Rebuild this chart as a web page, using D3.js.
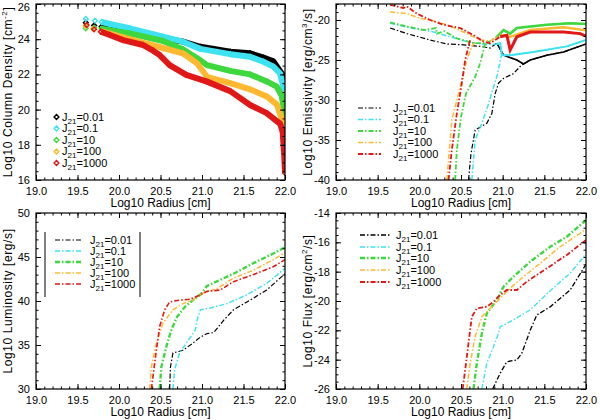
<!DOCTYPE html>
<html>
<head>
<meta charset="utf-8">
<script src="https://cdn.jsdelivr.net/npm/d3@7"></script>
<style>
  body { margin: 0; background: #fff; }
  text { font-family: 'Liberation Sans', Arial, sans-serif; fill: #000; }
</style>
</head>
<body>
<svg id="chart" width="600" height="420"></svg>
<script>
/* Four panels of the shell models, one curve per J21 value.
   Values: [log10 radius, value]. */

const jValues = ['0.01', '0.1', '10', '100', '1000'];
const seriesColors = ['#000000', '#3ee2f0', '#3ed83e', '#ffb830', '#e01818'];

// top left: column density (diamond symbols)
const colDen0_01 = [[19.60,24.94],[19.70,24.78],[19.79,24.71],[19.90,24.60],[20.13,24.33],[20.53,24.05],[20.77,23.86],[20.98,23.57],[21.34,23.29],[21.58,23.20],[21.74,22.95],[21.86,22.74],[21.96,22.06],[22.00,21.70]];
const colDen0_1  = [[19.60,25.15],[19.71,25.05],[19.79,24.99],[19.90,24.85],[20.13,24.62],[20.53,24.14],[20.77,23.86],[20.98,23.45],[21.34,23.15],[21.58,23.00],[21.74,22.72],[21.86,22.44],[21.94,22.06],[21.98,21.30],[22.00,20.80]];
const colDen10   = [[19.60,24.62],[19.70,24.65],[19.79,24.60],[19.90,24.50],[20.13,24.33],[20.53,23.90],[20.77,23.43],[20.98,22.80],[21.06,22.53],[21.34,22.20],[21.58,22.00],[21.78,21.60],[21.90,21.30],[21.96,20.80],[21.99,19.90],[22.00,19.30]];
const colDen100  = [[19.60,24.75],[19.69,24.58],[19.79,24.45],[19.90,24.30],[20.13,24.00],[20.53,23.50],[20.77,23.20],[20.94,22.63],[21.06,21.87],[21.10,21.80],[21.34,21.50],[21.58,21.15],[21.78,20.75],[21.90,20.30],[21.96,19.50],[21.99,18.90],[22.00,18.50]];
const colDen1000 = [[19.61,24.80],[19.70,24.56],[19.78,24.43],[19.89,24.24],[20.05,23.95],[20.29,23.67],[20.41,23.35],[20.49,23.10],[20.61,22.53],[20.81,21.97],[21.06,21.59],[21.34,21.05],[21.58,20.26],[21.78,19.80],[21.90,19.35],[21.94,19.20],[21.97,18.80],[21.99,17.50],[22.00,16.40]];

// top right: emissivity, outer branch and steep inner branch
const emisUpper0_01 = [[19.65,-21.0],[19.85,-21.7],[20.13,-22.5],[20.33,-23.0],[20.53,-23.1],[20.73,-23.3],[20.85,-23.5],[20.93,-22.9],[21.01,-24.4],[21.17,-25.0],[21.25,-25.5],[21.33,-25.0],[21.53,-24.4],[21.73,-24.0],[22.00,-23.0]];
const emisLower0_01 = [[20.59,-40],[20.62,-36.7],[20.67,-33.75],[20.81,-32.9],[20.87,-31.7],[20.91,-29.2],[20.95,-27.9],[21.01,-27.3],[21.13,-26.7],[21.21,-25.8],[21.25,-25.5]];
const emisUpper0_1  = [[19.65,-20.4],[19.89,-21.0],[20.05,-21.25],[20.17,-21.5],[20.37,-22.1],[20.57,-22.7],[20.81,-23.1],[20.93,-23.0],[20.97,-22.9],[20.99,-24.4],[21.09,-24.4],[21.37,-24.0],[21.77,-23.3],[22.00,-22.5]];
const emisLower0_1  = [[20.63,-40],[20.67,-35],[20.75,-32.9],[20.82,-30.8],[20.88,-28.75],[20.94,-26.7],[20.98,-24.6],[20.99,-24.4]];
const emisUpper10   = [[19.65,-20.3],[19.85,-20.8],[20.05,-21.25],[20.20,-21.0],[20.21,-21.7],[20.30,-21.4],[20.45,-22.3],[20.65,-22.9],[20.81,-22.9],[20.93,-22.1],[21.01,-21.25],[21.09,-21.7],[21.17,-21.0],[21.53,-20.6],[21.81,-20.4],[22.00,-20.5]];
const emisLower10   = [[20.43,-40],[20.45,-36.25],[20.50,-32.1],[20.56,-29.2],[20.67,-27.1],[20.73,-25.4],[20.77,-23.75],[20.79,-22.9]];
const emisUpper100  = [[19.65,-19.0],[19.85,-19.2],[20.01,-19.8],[20.13,-20.0],[20.33,-20.6],[20.53,-21.5],[20.73,-22.5],[20.85,-22.6],[20.97,-21.9],[21.09,-22.1],[21.33,-21.25],[21.73,-20.9],[22.00,-21.3]];
const emisLower100  = [[20.33,-40],[20.36,-36.25],[20.39,-32.5],[20.45,-30],[20.51,-27.5],[20.57,-25],[20.63,-23.3],[20.67,-22.8]];
const emisUpper1000 = [[19.65,-18.1],[19.81,-18.5],[19.85,-18.3],[19.97,-19.2],[20.13,-20.0],[20.29,-20.6],[20.49,-21.0],[20.65,-21.9],[20.77,-22.7],[20.85,-22.9],[20.97,-22.1],[21.05,-21.9],[21.09,-23.75],[21.17,-22.1],[21.33,-21.5],[21.73,-21.5],[21.93,-21.7],[22.00,-22.0]];
const emisLower1000 = [[20.35,-40],[20.39,-36.25],[20.45,-31.7],[20.51,-27.9],[20.55,-25],[20.59,-23.3],[20.61,-22.5]];

// bottom left: luminosity
const lum0_01 = [[20.61,30],[20.62,32.5],[20.65,34.1],[20.77,34.4],[20.89,35.2],[20.98,35.9],[21.06,36.3],[21.14,36.4],[21.26,37.8],[21.38,39.0],[21.58,40.1],[21.78,41.25],[22.00,43.1]];
const lum0_1  = [[20.65,30],[20.67,32.2],[20.73,34.1],[20.81,35.2],[20.92,36.7],[20.94,37.8],[20.98,39.0],[21.10,39.2],[21.30,39.7],[21.54,40.7],[21.78,42.0],[22.00,43.7]];
const lum10   = [[20.49,30],[20.51,32.5],[20.57,34.8],[20.63,36.7],[20.70,38.2],[20.80,39.4],[20.89,40.1],[20.98,40.7],[21.06,41.7],[21.22,42.4],[21.38,43.1],[21.62,44.3],[21.86,45.4],[22.00,46.1]];
const lum100  = [[20.37,30],[20.39,32.5],[20.45,35.2],[20.53,37.5],[20.65,39.0],[20.77,39.7],[20.89,40.1],[21.01,40.9],[21.18,41.4],[21.38,42.6],[21.62,43.5],[21.86,44.7],[22.00,45.5]];
const lum1000 = [[20.39,30],[20.42,32.2],[20.45,34.4],[20.49,37.1],[20.55,39.0],[20.61,39.9],[20.73,40.1],[20.85,40.2],[20.98,40.7],[21.06,41.1],[21.22,41.25],[21.38,42.2],[21.62,43.0],[21.86,43.9],[22.00,44.7]];

// bottom right: flux
const flux0_01 = [[20.88,-26],[20.97,-24.93],[21.05,-24.14],[21.17,-24.02],[21.23,-23.56],[21.33,-22.0],[21.41,-20.95],[21.57,-20.4],[21.81,-19.25],[22.00,-17.5]];
const flux0_1  = [[20.75,-26],[20.81,-24.25],[20.89,-23.11],[20.95,-22.2],[20.97,-21.75],[21.09,-21.41],[21.33,-20.61],[21.57,-19.3],[21.81,-18.1],[22.00,-16.8]];
const flux10   = [[20.65,-26],[20.69,-24.25],[20.75,-22.2],[20.81,-20.84],[20.93,-19.93],[21.01,-19.02],[21.13,-18.34],[21.33,-17.32],[21.57,-16.3],[21.77,-15.62],[22.00,-14.48]];
const flux100  = [[20.57,-26],[20.61,-24.25],[20.67,-22.43],[20.75,-21.07],[20.85,-20.5],[20.97,-19.81],[21.09,-19.13],[21.25,-18.34],[21.45,-17.43],[21.69,-16.3],[22.00,-15.11]];
const flux1000 = [[20.52,-26],[20.55,-24.7],[20.59,-22.88],[20.63,-21.07],[20.69,-20.5],[20.81,-20.39],[20.89,-20.05],[20.97,-19.59],[21.05,-19.25],[21.17,-19.25],[21.29,-18.68],[21.53,-17.77],[21.77,-16.86],[22.00,-15.84]];

const xTicks = [19.0, 19.5, 20.0, 20.5, 21.0, 21.5, 22.0];
const colDenTicks = [16, 18, 20, 22, 24, 26];
const emisTicks = [-40, -35, -30, -25, -20];
const lumTicks = [30, 35, 40, 45, 50];
const fluxTicks = [-26, -24, -22, -20, -18, -16, -14];

const DASHDOT = '5,2,1.5,2';
const svg = d3.select('#chart');


/* Frame, inward ticks on all four sides, labels on bottom and left. */
function makePanel(p) {
    let panel = {};
    panel.x = d3.scaleLinear().domain([19, 22]).range([p.left, p.right]);
    panel.y = d3.scaleLinear().domain(p.yDomain).range([p.bottom, p.top]);
    panel.root = svg.append('g');

    let clipId = 'clip' + p.id;
    panel.root.append('clipPath').attr('id', clipId)
        .append('rect')
        .attr('x', p.left).attr('y', p.top)
        .attr('width', p.right - p.left).attr('height', p.bottom - p.top);
    panel.plot = panel.root.append('g').attr('clip-path', `url(#${clipId})`);

    let xMinor = d3.range(19, 22.001, 0.1);
    let yMinor = d3.range(p.yDomain[0], p.yDomain[1] + 0.001, p.yMinor);

    function axis(gen, transform, values, size, fmt) {
        let g = panel.root.append('g')
            .attr('transform', transform)
            .call(gen.tickValues(values).tickSize(-size).tickPadding(7).tickFormat(fmt));
        g.select('.domain').remove();
        g.selectAll('line').attr('stroke', '#000').attr('stroke-width', 1);
        g.selectAll('text').attr('font-size', 11).attr('font-family', null);
        return g;
    }
    let none = () => '';
    axis(d3.axisBottom(panel.x), `translate(0,${p.bottom})`, xMinor, 2.5, none);
    axis(d3.axisBottom(panel.x), `translate(0,${p.bottom})`, xTicks, 5, d3.format('.1f'));
    axis(d3.axisTop(panel.x), `translate(0,${p.top})`, xMinor, 2.5, none);
    axis(d3.axisTop(panel.x), `translate(0,${p.top})`, xTicks, 5, none);
    axis(d3.axisLeft(panel.y), `translate(${p.left},0)`, yMinor, 2.5, none);
    axis(d3.axisLeft(panel.y), `translate(${p.left},0)`, p.yTicks, 5, d => String(d))
        .selectAll('text').attr('x', -6)
        // keep the top label inside the page
        .attr('dy', d => panel.y(d) < 6 ? '0.62em' : '0.32em');
    axis(d3.axisRight(panel.y), `translate(${p.right},0)`, yMinor, 2.5, none);
    axis(d3.axisRight(panel.y), `translate(${p.right},0)`, p.yTicks, 5, none);

    panel.root.append('rect')
        .attr('x', p.left).attr('y', p.top)
        .attr('width', p.right - p.left).attr('height', p.bottom - p.top)
        .attr('fill', 'none').attr('stroke', '#000').attr('stroke-width', 1.2);

    panel.root.append('text')
        .attr('x', (p.left + p.right) / 2)
        .attr('y', p.bottom + 27)
        .attr('text-anchor', 'middle')
        .attr('font-size', 12)
        .text('Log10 Radius [cm]');

    let yt = panel.root.append('text')
        .attr('transform', `translate(${p.left - 24},${(p.top + p.bottom) / 2}) rotate(-90)`)
        .attr('text-anchor', 'middle')
        .attr('font-size', 12)
        .attr('letter-spacing', 0.6);
    yt.append('tspan').text(p.title);
    if (p.titleSup) {
        yt.append('tspan').attr('font-size', 8).attr('dy', -5).text(p.titleSup);
        yt.append('tspan').attr('dy', 5).text(p.titleEnd);
    }
    return panel;
}

function lineOf(panel) {
    return d3.line().x(d => panel.x(d[0])).y(d => panel.y(d[1]));
}

/* "J21=value" with a subscript 21 */
function jLabel(g, x, y, value) {
    let t = g.append('text').attr('x', x).attr('y', y).attr('dy', '0.35em').attr('font-size', 11);
    t.append('tspan').text('J');
    t.append('tspan').attr('font-size', 8).attr('dy', 3).text('21');
    t.append('tspan').attr('dy', -3).text('=' + value);
}

function lineLegend(panel, x0, x1, xText, rows, widths) {
    let g = panel.root.append('g');
    rows.forEach((y, i) => {
        g.append('line')
            .attr('x1', x0).attr('x2', x1).attr('y1', y).attr('y2', y)
            .attr('stroke', seriesColors[i]).attr('stroke-width', widths[i])
            .attr('stroke-dasharray', DASHDOT);
        jLabel(g, xText, y, jValues[i]);
    });
    return g;
}


/* ---- top left: column density ---- */
function drawColumnDensity() {
    let panel = makePanel({id: 1, left: 36, right: 285, top: 4, bottom: 180,
        yDomain: [16, 26], yTicks: colDenTicks, yMinor: 0.5,
        title: 'Log10 Column Density [cm', titleSup: '-2', titleEnd: ']'});
    let series = [colDen0_01, colDen0_1, colDen10, colDen100, colDen1000];
    let line = lineOf(panel);
    let diamond = 'M0,-2.4L2.4,0L0,2.4L-2.4,0Z';
    series.forEach((pts, i) => {
        // the symbols overlap into a solid band after the first few points
        panel.plot.append('path')
            .attr('d', line(pts.filter(d => d[0] >= 19.78)))
            .attr('fill', 'none')
            .attr('stroke', seriesColors[i])
            .attr('stroke-width', 6)
            .attr('stroke-linejoin', 'round');
        panel.plot.selectAll(null)
            .data(pts)
            .enter().append('path')
            .attr('d', diamond)
            .attr('transform', d => `translate(${panel.x(d[0])},${panel.y(d[1])})`)
            .attr('fill', 'none')
            .attr('stroke', seriesColors[i])
            .attr('stroke-width', 1.4);
    });
    let legendRows = [117, 128.5, 140, 151.5, 163];
    legendRows.forEach((y, i) => {
        panel.root.append('path')
            .attr('d', diamond)
            .attr('transform', `translate(56.5,${y})`)
            .attr('fill', 'none')
            .attr('stroke', seriesColors[i])
            .attr('stroke-width', 1.4);
        jLabel(panel.root, 62, y, jValues[i]);
    });
}

/* ---- top right: emissivity ---- */
function drawEmissivity() {
    let panel = makePanel({id: 2, left: 336, right: 586, top: 4, bottom: 180,
        yDomain: [-40, -18], yTicks: emisTicks, yMinor: 1,
        title: 'Log10 Emissivity [erg/cm', titleSup: '3', titleEnd: '/s]'});
    let upper = [emisUpper0_01, emisUpper0_1, emisUpper10, emisUpper100, emisUpper1000];
    let lower = [emisLower0_01, emisLower0_1, emisLower10, emisLower100, emisLower1000];
    let widths = [1.2, 1.5, 1.8, 1.5, 1.8];
    let solidWidths = [1.6, 2, 2.6, 2.4, 3];
    let line = lineOf(panel);
    upper.forEach((pts, i) => {
        [pts, lower[i]].forEach(branch => {
            panel.plot.append('path')
                .attr('d', line(branch))
                .attr('fill', 'none')
                .attr('stroke', seriesColors[i])
                .attr('stroke-width', widths[i])
                .attr('stroke-dasharray', DASHDOT);
        });
        // the noisy outer part looks like a solid thick line
        panel.plot.append('path')
            .attr('d', line(pts.filter(d => d[0] >= 20.9)))
            .attr('fill', 'none')
            .attr('stroke', seriesColors[i])
            .attr('stroke-width', solidWidths[i]);
    });
    lineLegend(panel, 358, 381, 393, [108, 119.5, 131, 142.5, 154], widths);
}

/* ---- bottom left: luminosity ---- */
function drawLuminosity() {
    let panel = makePanel({id: 3, left: 36, right: 285, top: 213, bottom: 389,
        yDomain: [30, 50], yTicks: lumTicks, yMinor: 1,
        title: 'Log10 Luminosity [erg/s]'});
    let series = [lum0_01, lum0_1, lum10, lum100, lum1000];
    let widths = [1.2, 1.5, 2.4, 1.5, 1.6];
    let line = lineOf(panel);
    series.forEach((pts, i) => {
        panel.plot.append('path')
            .attr('d', line(pts))
            .attr('fill', 'none')
            .attr('stroke', seriesColors[i])
            .attr('stroke-width', widths[i])
            .attr('stroke-dasharray', DASHDOT);
    });
    let g = lineLegend(panel, 55, 83, 90, [240, 251, 262, 273, 284], widths);
    // legend box: only its two sides are drawn
    [45, 140].forEach(x => {
        g.append('line').attr('x1', x).attr('x2', x).attr('y1', 232).attr('y2', 297)
            .attr('stroke', '#000').attr('stroke-width', 1);
    });
}

/* ---- bottom right: flux ---- */
function drawFlux() {
    let panel = makePanel({id: 4, left: 336, right: 586, top: 213, bottom: 389,
        yDomain: [-26, -14], yTicks: fluxTicks, yMinor: 0.5,
        title: 'Log10 Flux [erg/cm', titleSup: '2', titleEnd: '/s]'});
    let series = [flux0_01, flux0_1, flux10, flux100, flux1000];
    let widths = [1.3, 1.4, 2.4, 1.5, 1.8];
    let line = lineOf(panel);
    series.forEach((pts, i) => {
        panel.plot.append('path')
            .attr('d', line(pts))
            .attr('fill', 'none')
            .attr('stroke', seriesColors[i])
            .attr('stroke-width', widths[i])
            .attr('stroke-dasharray', DASHDOT);
    });
    lineLegend(panel, 360, 390, 396, [235, 247, 258, 270, 282], widths);
}

drawColumnDensity();
drawEmissivity();
drawLuminosity();
drawFlux();
</script>
</body>
</html>
